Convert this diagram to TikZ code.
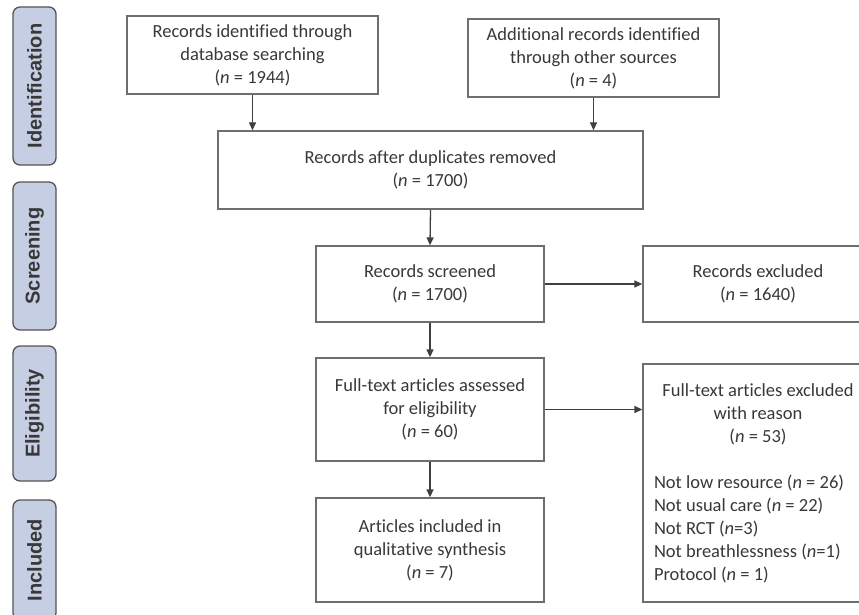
\documentclass[tikz,border=0pt]{standalone}
\usepackage{fontspec}
\setmainfont{Carlito}[Ligatures={NoCommon}]
\newfontfamily\stagefont{Liberation Sans}
\usetikzlibrary{arrows.meta}

\newlength{\du}
\setlength{\du}{1pt}

\definecolor{boxlinecolor}{rgb}{0.430000, 0.430000, 0.430000}
\definecolor{arrowcolor}{rgb}{0.250000, 0.250000, 0.250000}
\definecolor{textcolor}{rgb}{0.220000, 0.220000, 0.220000}
\definecolor{stagefillcolor}{rgb}{0.776000, 0.808000, 0.894000}
\definecolor{stagelinecolor}{rgb}{0.330000, 0.330000, 0.330000}

\tikzset{
  flowbox/.style={draw=boxlinecolor, line width=1.300000\du, align=center,
    text=textcolor, inner sep=0pt, font=\fontsize{18.5}{23}\selectfont},
  stagebox/.style={draw=stagelinecolor, fill=stagefillcolor, line width=1.300000\du,
    rounded corners=7\du, rotate=90, inner sep=0pt, minimum height=43\du,
    text=textcolor, font=\stagefont\bfseries\fontsize{20}{24}\selectfont},
  flowarrow/.style={draw=arrowcolor, line width=1.300000\du,
    -{Triangle[length=8pt,width=7pt]}}
}

\begin{document}
\begin{tikzpicture}
\pgftransformxscale{1.000000}
\pgftransformyscale{-1.000000}
\clip (0\du,0\du) rectangle (859\du,615\du);
% stages
\node[stagebox, minimum width=158\du] (stageid) at (34.500000\du,86.000000\du) {Identification};
\node[stagebox, minimum width=148\du] (stagescr) at (34.500000\du,256.000000\du) {Screening};
\node[stagebox, minimum width=135\du] (stageeli) at (34.500000\du,413.500000\du) {Eligibility};
\node[stagebox, minimum width=120\du] (stageinc) at (34.500000\du,560.000000\du) {Included};
% boxes
\node[flowbox, minimum width=251\du, minimum height=78\du] (ident) at (252.500000\du,55.000000\du)
  {Records identified through\\database searching\\(\textit{n} = 1944)};
\node[flowbox, minimum width=251\du, minimum height=78\du] (other) at (593.500000\du,58.000000\du)
  {Additional records identified\\through other sources\\(\textit{n} = 4)};
\node[flowbox, minimum width=425\du, minimum height=78\du] (dup) at (430.500000\du,170.000000\du)
  {Records after duplicates removed\\(\textit{n} = 1700)};
\node[flowbox, minimum width=228\du, minimum height=76\du] (screen) at (430.000000\du,284.000000\du)
  {Records screened\\(\textit{n} = 1700)};
\node[flowbox, minimum width=230\du, minimum height=76\du] (excl) at (758.000000\du,284.000000\du)
  {Records excluded\\(\textit{n} = 1640)};
\node[flowbox, minimum width=228\du, minimum height=103\du] (full) at (430.000000\du,409.500000\du)
  {Full-text articles assessed\\for eligibility\\(\textit{n} = 60)};
\node[flowbox, minimum width=230\du, minimum height=238\du, text width=208\du, align=left] (fullexcl) at (758.000000\du,483.000000\du)
  {\spaceskip=0pt\xspaceskip=0pt
   \centering Full-text articles excluded\\with reason\\(\textit{n} = 53)\par\vspace{23pt}
   \raggedright Not low resource (\textit{n} = 26)\\Not usual care (\textit{n} = 22)\\Not RCT (\textit{n}=3)\\
   Not breathlessness (\textit{n}=1)\\Protocol (\textit{n} = 1)\par};
\node[flowbox, minimum width=228\du, minimum height=104\du] (incl) at (430.000000\du,550.000000\du)
  {Articles included in\\qualitative synthesis\\(\textit{n} = 7)};
% arrows
\draw[flowarrow] (ident.south) -- (ident.south |- dup.north);
\draw[flowarrow] (other.south) -- (other.south |- dup.north);
\draw[flowarrow] (dup.south) -- (screen.north);
\draw[flowarrow] (screen.east) -- (excl.west);
\draw[flowarrow] (screen.south) -- (full.north);
\draw[flowarrow] (full.east) -- (full.east -| fullexcl.west);
\draw[flowarrow] (full.south) -- (incl.north);
\end{tikzpicture}
\end{document}
